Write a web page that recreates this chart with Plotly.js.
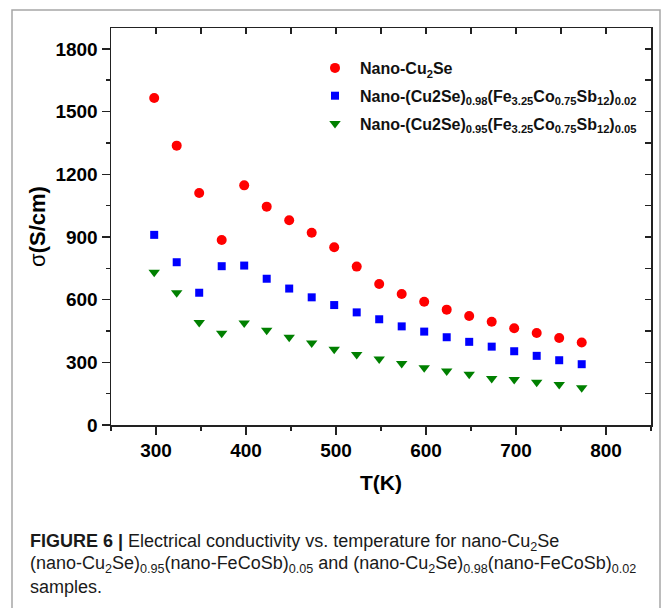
<!DOCTYPE html>
<html>
<head>
<meta charset="utf-8">
<script src="https://cdn.plot.ly/plotly-3.0.1.min.js"></script>
<style>
  html, body { margin: 0; padding: 0; background: #ffffff; }
  #chart { width: 663px; height: 608px; }
</style>
</head>
<body>
<div id="chart"></div>
<script>
// Temperature (K) of each measurement
const temperature = [298, 323, 348, 373, 398, 423, 448, 473, 498, 523,
                     548, 573, 598, 623, 648, 673, 698, 723, 748, 773];

// Electrical conductivity sigma (S/cm)
const sigmaCu2Se = [1565, 1337, 1110, 885, 1147, 1045, 980, 920, 851, 758,
                    675, 627, 590, 552, 522, 494, 463, 440, 416, 395];
const sigma098 = [910, 779, 633, 760, 763, 700, 653, 611, 574, 539,
                  506, 472, 447, 420, 398, 375, 353, 331, 310, 291];
const sigma095 = [731, 633, 490, 439, 488, 453, 420, 393, 362, 338,
                  316, 294, 274, 259, 243, 222, 218, 205, 194, 178];

const seriesNames = [
  'Nano-Cu<sub>2</sub>Se',
  'Nano-(Cu2Se)<sub>0.98</sub>(Fe<sub>3.25</sub>Co<sub>0.75</sub>Sb<sub>12</sub>)<sub>0.02</sub>',
  'Nano-(Cu2Se)<sub>0.95</sub>(Fe<sub>3.25</sub>Co<sub>0.75</sub>Sb<sub>12</sub>)<sub>0.05</sub>'
];

const captionLines = [
  '<b>FIGURE 6 |</b> Electrical conductivity vs. temperature for nano-Cu<sub>2</sub>Se',
  '(nano-Cu<sub>2</sub>Se)<sub>0.95</sub>(nano-FeCoSb)<sub>0.05</sub> and (nano-Cu<sub>2</sub>Se)<sub>0.98</sub>(nano-FeCoSb)<sub>0.02</sub>',
  'samples.'
];

const xRange = [250, 850];
const yRange = [0, 1900];

// page geometry (pixels) of the plotting frame
const W = 663, H = 608;
const L = 111, R = 651, T = 28, B = 425;
const px = x => (x - L) / (R - L);
const py = y => (B - y) / (B - T);

const FONT = '"Liberation Sans", Arial, Helvetica, sans-serif';

const traces = [
  { x: temperature, y: sigmaCu2Se, name: seriesNames[0], legendgroup: 'a', type: 'scatter', mode: 'markers',
    marker: { symbol: 'circle', size: 10, color: '#ff0000' } },
  { x: temperature, y: sigma098, name: seriesNames[1], legendgroup: 'b', type: 'scatter', mode: 'markers',
    marker: { symbol: 'square', size: 8, color: '#0000ff' } },
  { x: temperature, y: sigma095, name: seriesNames[2], legendgroup: 'c', type: 'scatter', mode: 'markers',
    marker: { symbol: 'triangle-down', size: 10, color: '#008000' } }
];

const axisCommon = {
  showgrid: false, zeroline: false,
  linecolor: '#222', linewidth: 1.5,
  tickcolor: '#222', tickwidth: 1.5
};

const layout = {
  width: W, height: H,
  margin: { l: L, r: W - R, t: T, b: H - B, pad: 0 },
  paper_bgcolor: '#ffffff', plot_bgcolor: '#ffffff',
  font: { family: FONT, color: '#000' },
  showlegend: true,
  legend: {
    x: px(310), y: py(51), xanchor: 'left', yanchor: 'top',
    traceorder: 'grouped', tracegroupgap: 4,
    bgcolor: 'rgba(0,0,0,0)', borderwidth: 0, itemwidth: 40,
    font: { family: FONT, size: 16, weight: 'bold', color: '#111' }
  },
  xaxis: Object.assign({}, axisCommon, {
    range: xRange, tickmode: 'linear', tick0: 300, dtick: 100,
    ticks: 'outside', ticklen: 8, mirror: true,
    minor: { tickmode: 'linear', tick0: 250, dtick: 50, ticks: 'outside', ticklen: 4,
             tickwidth: 1.5, tickcolor: '#222' },
    tickfont: { family: FONT, size: 19, weight: 'bold', color: '#000' },
    title: { text: '<b>T(K)</b>', font: { family: FONT, size: 21, color: '#000' }, standoff: 15 }
  }),
  yaxis: Object.assign({}, axisCommon, {
    range: yRange, tickmode: 'linear', tick0: 0, dtick: 300,
    ticks: 'outside', ticklen: 8, mirror: true,
    minor: { tickmode: 'linear', tick0: 0, dtick: 150, ticks: 'outside', ticklen: 4,
             tickwidth: 1.5, tickcolor: '#222' },
    tickfont: { family: FONT, size: 19, weight: 'bold', color: '#000' },
    title: { text: 'σ<b>(S/cm)</b>', font: { family: FONT, size: 22, color: '#000' }, standoff: 3 }
  }),
  // inward ticks along the top and right edges of the frame
  xaxis2: Object.assign({}, axisCommon, {
    overlaying: 'x', side: 'top', anchor: 'y', range: xRange,
    tickmode: 'linear', tick0: 250, dtick: 50, ticks: 'inside', ticklen: 6,
    showticklabels: false, showline: false
  }),
  yaxis2: Object.assign({}, axisCommon, {
    overlaying: 'y', side: 'right', anchor: 'x', range: yRange,
    tickmode: 'linear', tick0: 0, dtick: 150, ticks: 'inside', ticklen: 6,
    showticklabels: false, showline: false
  }),
  shapes: [
    { type: 'rect', xref: 'paper', yref: 'paper', layer: 'below',
      x0: px(12), x1: px(660), y0: py(10), y1: py(620),
      line: { color: '#a6a6a6', width: 1.5 }, fillcolor: 'rgba(0,0,0,0)' }
  ],
  annotations: captionLines.map((txt, i) => ({
    text: txt, xref: 'paper', yref: 'paper', showarrow: false,
    x: px(28), y: py([542, 564, 587][i]), xanchor: 'left', yanchor: 'middle',
    align: 'left',
    font: { family: FONT, size: 18, color: '#1a1a1a' }
  }))
};

// empty trace on the overlay axes so they are built
traces.push({ x: [], y: [], xaxis: 'x2', yaxis: 'y2', type: 'scatter', mode: 'markers',
              showlegend: false, hoverinfo: 'skip' });

Plotly.newPlot('chart', traces, layout, { staticPlot: true, displayModeBar: false });
</script>
</body>
</html>
